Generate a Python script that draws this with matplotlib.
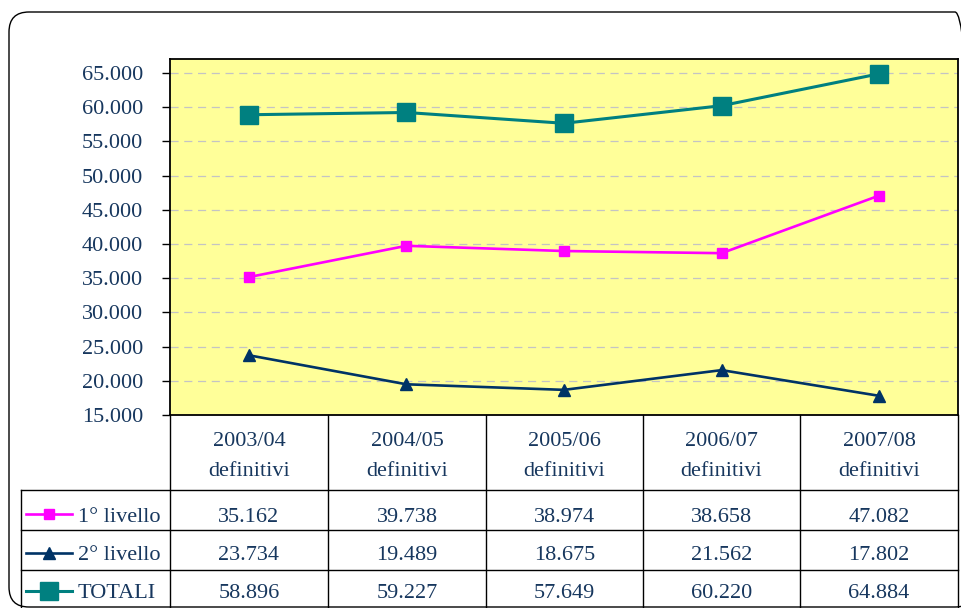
import matplotlib
matplotlib.use("Agg")
import matplotlib.pyplot as plt
import matplotlib.transforms as mtransforms
from matplotlib.patches import FancyBboxPatch
from matplotlib.lines import Line2D

# Data
years = ["2003/04", "2004/05", "2005/06", "2006/07", "2007/08"]
status = ["definitivi"] * 5
livello1 = [35162, 39738, 38974, 38658, 47082]
livello2 = [23734, 19489, 18675, 21562, 17802]
totali = [58896, 59227, 57649, 60220, 64884]
series_names = ["1° livello", "2° livello", "TOTALI"]
y_ticks = list(range(15000, 65001, 5000))

W, H = 962, 608
TXT = "#17375E"
FONT = "Liberation Serif"
FS = 16


def fx(x):
    return x / W


def fy(y):
    return 1 - y / H


def fmt(v):
    return f"{v:,}".replace(",", ".")


fig = plt.figure(figsize=(W / 100, H / 100), dpi=100)
fig.patch.set_facecolor("white")

# rounded outer frame, drawn in pixel units (origin bottom-left)
px = mtransforms.Affine2D().scale(1 / W, 1 / H) + fig.transFigure
frame = FancyBboxPatch((9, H - 607), 975 - 9, 607 - 12,
                       boxstyle="round,pad=0,rounding_size=20",
                       transform=px, facecolor="none",
                       edgecolor="black", linewidth=1.0)
fig.patches.append(frame)

ax_l, ax_r, ax_t, ax_b = 170, 958, 59, 415
ax = fig.add_axes([fx(ax_l), fy(ax_b), fx(ax_r - ax_l), (ax_b - ax_t) / H])
ax.set_facecolor("#FFFF99")

x = range(len(years))
styles = [
    dict(color="#FF00FF", marker="s", markersize=7.5, linewidth=1.9),
    dict(color="#003366", marker="^", markersize=8.5, linewidth=1.9),
    dict(color="#008080", marker="s", markersize=12.5, linewidth=2.2),
]
for vals, st in zip([livello1, livello2, totali], styles):
    ax.plot(x, vals, color=st["color"], marker=st["marker"],
            markersize=st["markersize"], linewidth=st["linewidth"],
            markerfacecolor=st["color"], markeredgecolor=st["color"], zorder=3)

ax.set_xlim(-0.5, len(years) - 0.5)
top = 65000 + (73 - 59) / ((415 - 73) / 10) * 5000
ax.set_ylim(15000, top)
ax.set_yticks(y_ticks)
ax.set_yticklabels([fmt(v) for v in y_ticks], fontfamily=FONT, fontsize=FS, color=TXT)
ax.tick_params(axis="y", direction="out", length=5.8, width=1, pad=13.5)
ax.set_xticks([])
for v in y_ticks[1:]:
    ax.axhline(v, color="#C4C4C4", linestyle=(0, (6.5, 4.5)), linewidth=0.9, zorder=1)
for sp in ax.spines.values():
    sp.set_color("black")
    sp.set_linewidth(1.3)

# data table
col_edges = [170, 328, 486, 643, 800, 958]
row_edges = [415, 490, 530, 570, 610]
lw = 1.0
for xe in col_edges:
    fig.add_artist(Line2D([fx(xe), fx(xe)], [fy(415), fy(612)], color="black",
                          linewidth=lw, transform=fig.transFigure))
fig.add_artist(Line2D([fx(21), fx(21)], [fy(490), fy(612)], color="black",
                      linewidth=lw, transform=fig.transFigure))
for ye in row_edges[1:]:
    fig.add_artist(Line2D([fx(21), fx(958)], [fy(ye), fy(ye)], color="black",
                          linewidth=lw, transform=fig.transFigure))

for i, (yr, st) in enumerate(zip(years, status)):
    cx = (col_edges[i] + col_edges[i + 1]) / 2
    fig.text(fx(cx), fy(442), yr, ha="center", va="center",
             fontfamily=FONT, fontsize=FS, color=TXT)
    fig.text(fx(cx), fy(472), st, ha="center", va="center",
             fontfamily=FONT, fontsize=FS, color=TXT)

row_centers = [514, 553, 591]
for r, (name, vals, st) in enumerate(zip(series_names, [livello1, livello2, totali], styles)):
    cy = row_centers[r]
    fig.add_artist(Line2D([fx(26), fx(72)], [fy(cy), fy(cy)], color=st["color"],
                          linewidth=st["linewidth"], transform=fig.transFigure))
    fig.add_artist(Line2D([fx(49)], [fy(cy)], color=st["color"], marker=st["marker"],
                          markersize=st["markersize"],
                          markerfacecolor=st["color"], markeredgecolor=st["color"],
                          transform=fig.transFigure))
    fig.text(fx(78), fy(cy + 3), name, ha="left", va="center",
             fontfamily=FONT, fontsize=FS, color=TXT)
    for i, v in enumerate(vals):
        cx = (col_edges[i] + col_edges[i + 1]) / 2
        fig.text(fx(cx), fy(cy + 3), fmt(v), ha="center", va="center",
                 fontfamily=FONT, fontsize=FS, color=TXT)

fig.savefig("out.png", dpi=100)
